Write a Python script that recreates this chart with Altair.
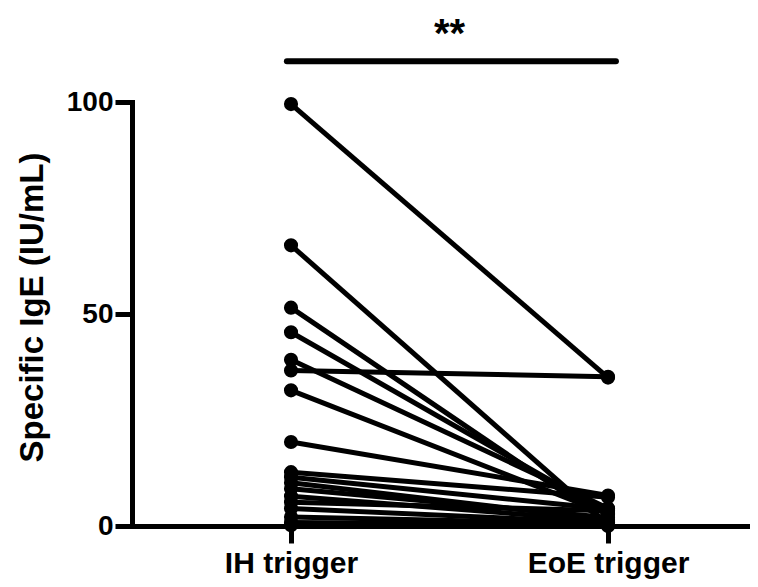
import altair as alt
import pandas as pd

# Paired values
subjects = list(range(1, 19))
ih_values = [99.5, 66.2, 51.5, 45.7, 39.2, 36.7, 32.0, 19.8, 12.7, 11.5, 10.2, 8.8, 7.0, 5.6, 4.1, 2.1, 0.8, 0.2]
eoe_values = [35.0, 0.3, 0.8, 3.0, 4.2, 35.2, 2.8, 7.2, 6.8, 4.0, 1.5, 2.0, 1.2, 3.6, 0.8, 0.5, 0.3, 0.0]
group_labels = ["IH trigger", "EoE trigger"]
group_pos = [1, 2]
y_ticks = [0, 50, 100]
sig_text = "**"
sig_x = [0.987, 2.025]
sig_y = 109.6
sig_text_y = 113.0

rows = []
for s, a, b in zip(subjects, ih_values, eoe_values):
    rows.append({"subject": s, "pos": group_pos[0], "value": a})
    rows.append({"subject": s, "pos": group_pos[1], "value": b})
df = pd.DataFrame(rows)

FONT = "Liberation Sans"

xscale = alt.Scale(domain=[0.4984, 2.4479], nice=False, zero=False)
yscale = alt.Scale(domain=[0, 100], nice=False, zero=False)

label_expr = f"datum.value == 1 ? '{group_labels[0]}' : '{group_labels[1]}'"

base = alt.Chart(df)

lines = base.mark_line(color="black", strokeWidth=5).encode(
    x=alt.X("pos:Q", scale=xscale,
            axis=alt.Axis(values=group_pos, labelExpr=label_expr, title=None,
                          labelFontSize=30, labelPadding=5, labelFlush=False)),
    y=alt.Y("value:Q", scale=yscale,
            axis=alt.Axis(values=y_ticks, title="Specific IgE (IU/mL)",
                          labelFontSize=28, labelPadding=2,
                          titleFontSize=33, titleAngle=270, titleX=-90, titleY=205,
                          titleAlign="center", titleBaseline="alphabetic")),
    detail="subject:N",
)

points = base.mark_point(filled=True, color="black", opacity=1, size=200).encode(
    x=alt.X("pos:Q", scale=xscale),
    y=alt.Y("value:Q", scale=yscale),
)

sig_df = pd.DataFrame({"x": [sig_x[0]], "x2": [sig_x[1]], "y": [sig_y]})
sig_bar = alt.Chart(sig_df).mark_rule(color="black", strokeWidth=6, strokeCap="round").encode(
    x=alt.X("x:Q", scale=xscale), x2="x2:Q", y=alt.Y("y:Q", scale=yscale)
)

txt_df = pd.DataFrame({"x": [1.5], "y": [sig_text_y], "t": [sig_text]})
sig_txt = alt.Chart(txt_df).mark_text(
    font=FONT, fontWeight="bold", fontSize=40, color="black",
    align="center", baseline="alphabetic"
).encode(x=alt.X("x:Q", scale=xscale), y=alt.Y("y:Q", scale=yscale), text="t:N")

chart = alt.layer(lines, points, sig_bar, sig_txt).properties(
    width=618, height=424,
    autosize=alt.AutoSizeParams(type="none"),
    padding={"left": 124, "top": 94, "right": 0, "bottom": 53},
).configure_view(stroke=None).configure_axis(
    grid=False,
    domainColor="black", domainWidth=5, domainCap="square",
    tickColor="black", tickWidth=5, tickSize=17,
    labelFont=FONT, labelFontWeight="bold", labelColor="black",
    titleFont=FONT, titleFontWeight="bold", titleColor="black",
)

chart.save("out.html", embed_options={"renderer": "svg", "actions": False})
